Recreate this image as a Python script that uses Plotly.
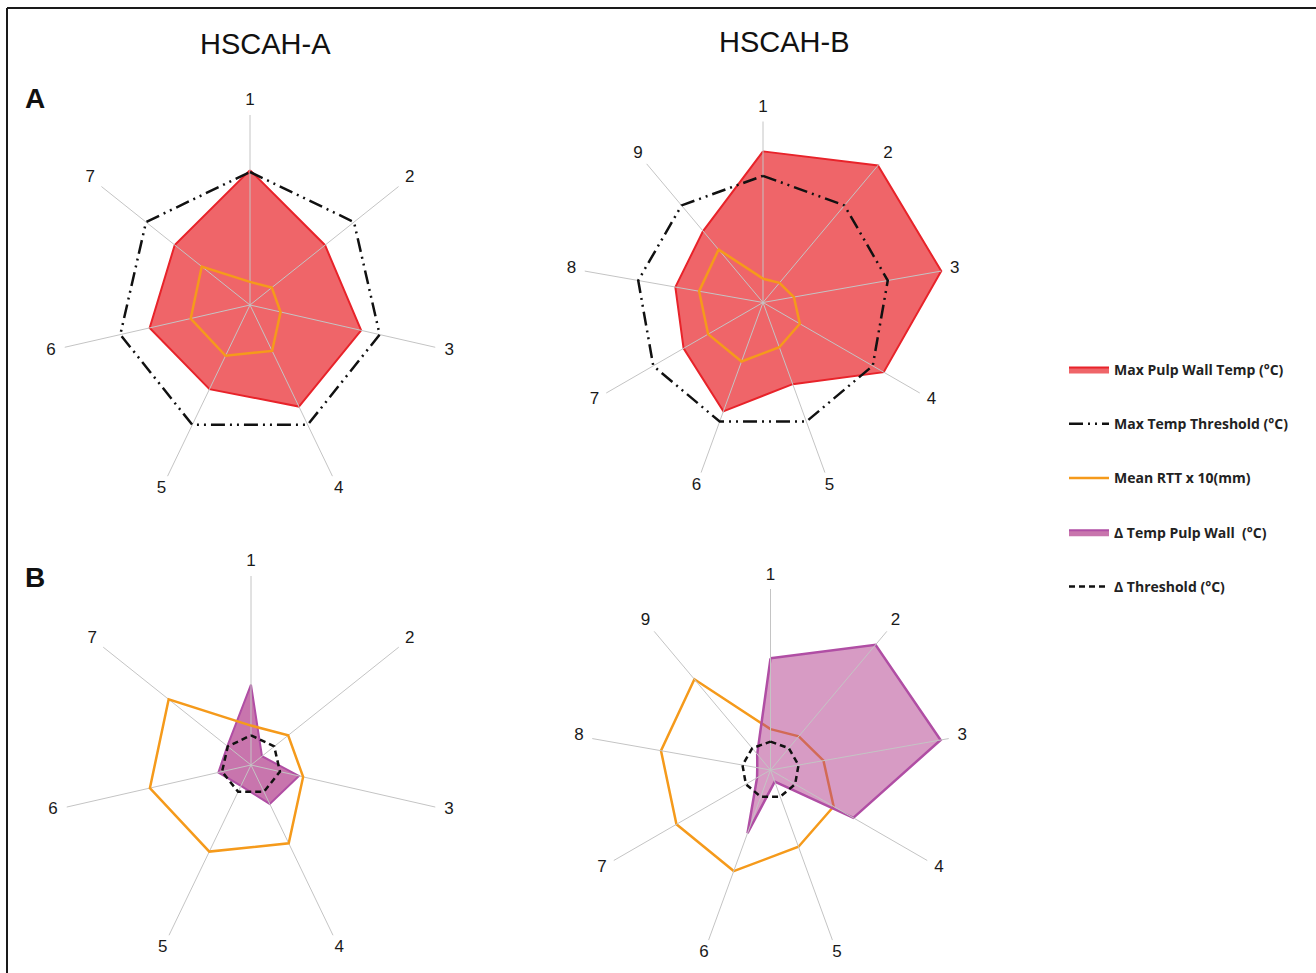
import plotly.graph_objects as go

# ---------------- data ----------------
cats_A = ["1", "2", "3", "4", "5", "6", "7"]
cats_B = ["1", "2", "3", "4", "5", "6", "7", "8", "9"]

# Panel A (top row): Max pulp wall temperature (°C)
max_temp_A = [42.6, 30.3, 36.0, 35.6, 29.5, 32.5, 30.4]
max_temp_B = [50.1, 59.3, 60.0, 46.2, 28.8, 38.4, 30.4, 29.5, 30.9]
max_thr_A = [42, 42, 42, 42, 42, 42, 42]
max_thr_B = [42, 42, 42, 42, 42, 42, 42, 42, 42]

# Mean RTT x 10 (mm)
rtt_A = [7.3, 8.8, 9.9, 16.1, 17.8, 19.2, 19.5]
rtt_B = [7.9, 8.5, 10.4, 14.1, 15.8, 20.8, 21.0, 21.5, 22.9]

# Panel B (bottom row): delta temperature pulp wall (°C)
delta_A = [14.9, 2.6, 9.1, 8.0, 4.3, 6.2, 5.6]
delta_B = [21.6, 31.6, 33.4, 18.5, 2.4, 13.0, 3.0, 2.6, 4.0]
delta_thr_A = [5.5, 5.5, 5.5, 5.5, 5.5, 5.5, 5.5]
delta_thr_B = [5.5, 5.5, 5.5, 5.5, 5.5, 5.5, 5.5, 5.5, 5.5]

scale_top = 60     # value at the spoke ends, top row
scale_bottom = 35  # value at the spoke ends, bottom row

# ---------------- styles ----------------
W, H = 1316, 973
FONT = "Liberation Sans, Arial, sans-serif"
RED_LINE = "#e8232a"
RED_FILL = "rgba(232,35,42,0.70)"
ORANGE = "#f59a1b"
PURPLE_LINE = "#b04ea4"
PURPLE_FILL_A = "rgba(179,64,142,0.72)"
PURPLE_FILL_B = "rgba(179,64,142,0.52)"
SPOKE = "#c4c4c4"
THR_DASH = "14px,5px,2px,5px,2px,5px"
DELTA_DASH = "6px,4px"
LABEL_R = 1.075  # category labels sit just beyond the spoke ends
PAD = 1.09       # radial range extends a bit past the spokes so the labels fit


def closed(vals):
    return list(vals) + [vals[0]]


def spokes(cats, smax, subplot):
    r, th = [], []
    for c in cats:
        r += [0, smax, None]
        th += [c, c, c]
    return go.Scatterpolar(r=r, theta=th, mode="lines", line=dict(color=SPOKE, width=1),
                           subplot=subplot, showlegend=False, hoverinfo="skip", connectgaps=False)


def labels(cats, smax, subplot):
    return go.Scatterpolar(r=[smax * LABEL_R] * len(cats), theta=cats, mode="text", text=cats,
                           textposition="middle center", cliponaxis=False,
                           textfont=dict(family=FONT, size=17, color="#1a1a1a"),
                           subplot=subplot, showlegend=False, hoverinfo="skip")


def area(vals, cats, subplot, line, fill, name, show, rank, width=2):
    return go.Scatterpolar(r=closed(vals), theta=closed(cats), mode="lines", fill="toself",
                           fillcolor=fill, line=dict(color=line, width=width), subplot=subplot,
                           name=name, showlegend=show, legendgroup=name, legendrank=rank,
                           hoverinfo="skip")


def poly(vals, cats, subplot, color, width, dash, name, show, rank):
    return go.Scatterpolar(r=closed(vals), theta=closed(cats), mode="lines",
                           line=dict(color=color, width=width, dash=dash), subplot=subplot,
                           name=name, showlegend=show, legendgroup=name, legendrank=rank,
                           hoverinfo="skip")


N1 = "Max Pulp Wall Temp (°C)"
N2 = "Max Temp Threshold (°C)"
N3 = "Mean RTT x 10(mm)"
N4 = "Δ Temp Pulp Wall  (°C)"
N5 = "Δ Threshold (°C)"

fig = go.Figure()

# top-left
fig.add_trace(area(max_temp_A, cats_A, "polar", RED_LINE, RED_FILL, N1, True, 1))
fig.add_trace(spokes(cats_A, scale_top, "polar"))
fig.add_trace(poly(max_thr_A, cats_A, "polar", "#111111", 2.5, THR_DASH, N2, True, 2))
fig.add_trace(poly(rtt_A, cats_A, "polar", ORANGE, 2.5, "solid", N3, True, 3))
fig.add_trace(labels(cats_A, scale_top, "polar"))

# top-right
fig.add_trace(area(max_temp_B, cats_B, "polar2", RED_LINE, RED_FILL, N1, False, 1))
fig.add_trace(spokes(cats_B, scale_top, "polar2"))
fig.add_trace(poly(max_thr_B, cats_B, "polar2", "#111111", 2.5, THR_DASH, N2, False, 2))
fig.add_trace(poly(rtt_B, cats_B, "polar2", ORANGE, 2.5, "solid", N3, False, 3))
fig.add_trace(labels(cats_B, scale_top, "polar2"))

# bottom-left
fig.add_trace(area(delta_A, cats_A, "polar3", PURPLE_LINE, PURPLE_FILL_A, N4, True, 4, 2))
fig.add_trace(spokes(cats_A, scale_bottom, "polar3"))
fig.add_trace(poly(delta_thr_A, cats_A, "polar3", "#111111", 2.5, DELTA_DASH, N5, True, 5))
fig.add_trace(poly(rtt_A, cats_A, "polar3", ORANGE, 2.5, "solid", N3, False, 3))
fig.add_trace(labels(cats_A, scale_bottom, "polar3"))

# bottom-right (orange drawn beneath the purple area)
fig.add_trace(poly(rtt_B, cats_B, "polar4", ORANGE, 2.5, "solid", N3, False, 3))
fig.add_trace(area(delta_B, cats_B, "polar4", PURPLE_LINE, PURPLE_FILL_B, N4, False, 4, 2.5))
fig.add_trace(spokes(cats_B, scale_bottom, "polar4"))
fig.add_trace(poly(delta_thr_B, cats_B, "polar4", "#111111", 2.5, DELTA_DASH, N5, False, 5))
fig.add_trace(labels(cats_B, scale_bottom, "polar4"))


def polar_layout(cats, smax, cx, cy, r):
    # r = pixel length of the spokes; the polar circle itself is PAD times larger
    R = r * PAD
    return dict(
        domain=dict(x=[(cx - R) / W, (cx + R) / W], y=[1 - (cy + R) / H, 1 - (cy - R) / H]),
        bgcolor="rgba(0,0,0,0)",
        radialaxis=dict(range=[0, smax * PAD], visible=False, showgrid=False),
        angularaxis=dict(type="category", categoryorder="array", categoryarray=cats,
                         direction="clockwise", rotation=90, showline=False, showgrid=False,
                         ticks="", showticklabels=False),
    )


def note(text, x, y, size):
    return dict(text=text, x=x / W, y=1 - y / H, xref="paper", yref="paper",
                xanchor="center", yanchor="middle", showarrow=False,
                font=dict(family=FONT, size=size, color="#111111"))


fig.update_layout(
    width=W, height=H, autosize=False,
    margin=dict(l=0, r=0, t=0, b=0),
    paper_bgcolor="white", plot_bgcolor="white",
    polar=polar_layout(cats_A, scale_top, 250, 305, 190),
    polar2=polar_layout(cats_B, scale_top, 763, 302.5, 181),
    polar3=polar_layout(cats_A, scale_bottom, 251, 765, 189),
    polar4=polar_layout(cats_B, scale_bottom, 770.5, 770, 181),
    showlegend=True,
    legend=dict(x=1064 / W, y=1 - 354 / H, xanchor="left", yanchor="top",
                font=dict(family="Open Sans, sans-serif", size=14, color="#222222", weight="bold"),
                tracegroupgap=33, bgcolor="rgba(0,0,0,0)", itemwidth=40,
                traceorder="grouped"),
    annotations=[
        note("HSCAH-A", 265, 44, 29),
        note("HSCAH-B", 784, 42, 29),
        note("<b>A</b>", 35, 98, 28),
        note("<b>B</b>", 35, 577, 28),
    ],
    shapes=[
        dict(type="line", xref="paper", yref="paper", x0=7 / W, x1=1, y0=1 - 8 / H, y1=1 - 8 / H,
             line=dict(color="#1a1a1a", width=2)),
        dict(type="line", xref="paper", yref="paper", x0=7 / W, x1=7 / W, y0=0, y1=1 - 8 / H,
             line=dict(color="#1a1a1a", width=2)),
    ],
)

fig.write_html("out.html", config={"displayModeBar": False},
               post_script="document.body.style.margin='0';document.body.style.overflow='hidden';")
